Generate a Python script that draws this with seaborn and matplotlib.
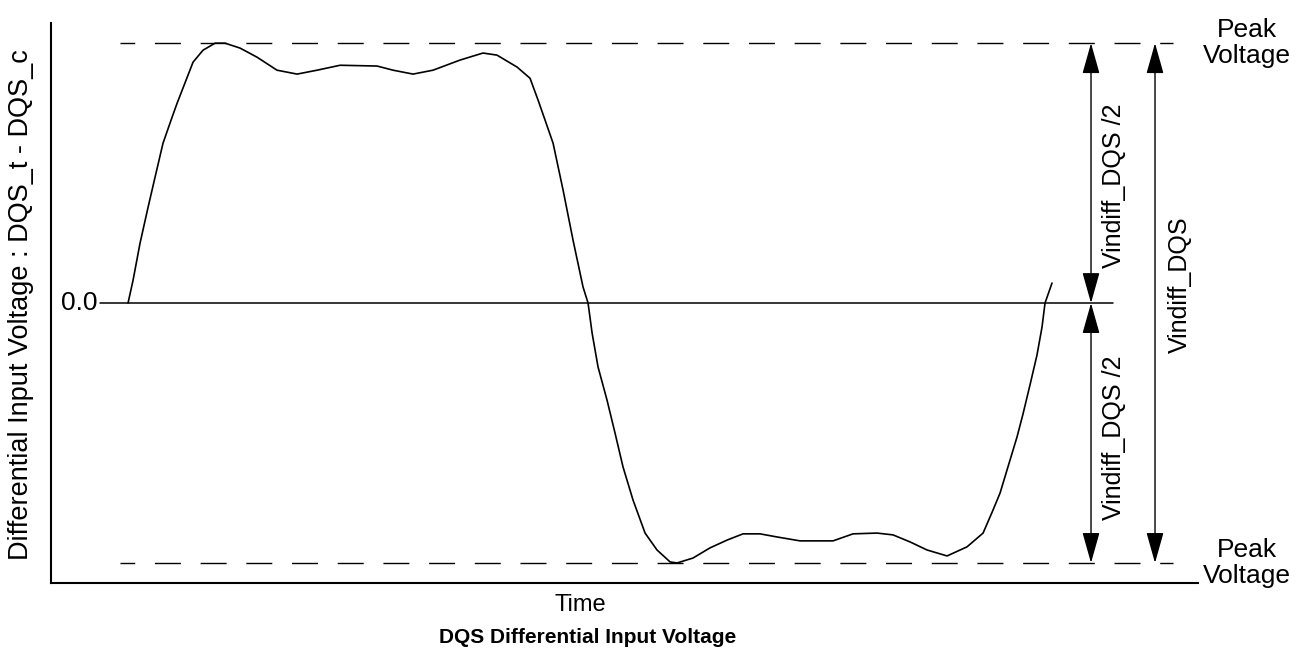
import numpy as np
import pandas as pd
import seaborn as sns
import matplotlib.pyplot as plt

# Waveform (time in arbitrary units 0-100, voltage normalised to the peak)
time_points = [6.71, 7.15, 7.76, 8.46, 9.07, 9.76, 10.55, 10.99, 12.38, 13.25, 14.30, 15.17,
               16.48, 17.96, 19.70, 21.45, 23.19, 25.20, 28.42, 29.82, 31.56, 33.30, 35.66,
               37.66, 38.88, 40.63, 41.76, 42.46, 43.07, 43.77, 44.64, 45.51, 46.38, 46.82,
               47.17, 47.69, 48.47, 49.17, 49.87, 50.74, 51.79, 52.83, 53.97, 54.58, 55.97,
               57.45, 58.94, 60.33, 61.81, 63.30, 65.30, 68.18, 69.92, 72.01, 73.41, 74.89,
               76.37, 78.12, 79.86, 81.26, 82.13, 82.74, 83.61, 84.22, 84.74, 85.35, 85.96,
               86.40, 86.66, 87.27]
voltage_points = [0.0, 0.088, 0.231, 0.369, 0.485, 0.615, 0.715, 0.769, 0.927, 0.973, 1.0, 1.0,
                  0.981, 0.946, 0.896, 0.881, 0.896, 0.915, 0.912, 0.896, 0.881, 0.896, 0.935,
                  0.962, 0.954, 0.908, 0.865, 0.781, 0.704, 0.615, 0.435, 0.242, 0.062, 0.0,
                  -0.115, -0.246, -0.373, -0.5, -0.631, -0.758, -0.885, -0.950, -0.996, -1.0, -0.981,
                  -0.942, -0.912, -0.888, -0.888, -0.900, -0.915, -0.915, -0.888, -0.885, -0.892, -0.919,
                  -0.950, -0.973, -0.938, -0.885, -0.796, -0.731, -0.604, -0.515, -0.427, -0.315, -0.200,
                  -0.092, 0.0, 0.077]

peak_levels = [1.0, -1.0]
half_label = "Vindiff_DQS /2"
full_label = "Vindiff_DQS"
peak_label = "Peak\nVoltage"
zero_label = "0.0"
x_label = "Time"
y_label = "Differential Input Voltage : DQS_t - DQS_c"
title = "DQS Differential Input Voltage"

df = pd.DataFrame({'time': time_points, 'voltage': voltage_points})

sns.set_theme(style="white")
plt.rcParams['font.family'] = ['Liberation Sans', 'DejaVu Sans']
plt.rcParams['text.color'] = 'black'

fig = plt.figure(figsize=(12.96, 6.54), dpi=100)
ax = fig.add_axes([0.0394, 0.1086, 0.885, 0.856])

# Waveform
sns.lineplot(data=df, x='time', y='voltage', ax=ax, color='black', linewidth=1.2, sort=False)

# Zero reference line and dashed peak levels
ax.plot([4.27, 92.6], [0, 0], color='black', linewidth=1.1)
for level in peak_levels:
    ax.plot([6.02, 97.8], [level, level], color='black', linewidth=1.0,
            linestyle=(8.1, (18.7, 14.2)))

# Dimension arrows
arrow_style = dict(arrowstyle='<|-|>,head_length=1.6,head_width=0.45', color='black',
                   lw=1.0, shrinkA=0, shrinkB=0)
ax.annotate('', xy=(90.67, peak_levels[0]), xytext=(90.67, 0), arrowprops=arrow_style)
ax.annotate('', xy=(90.67, peak_levels[1]), xytext=(90.67, 0), arrowprops=arrow_style)
ax.annotate('', xy=(96.25, peak_levels[0]), xytext=(96.25, peak_levels[1]), arrowprops=arrow_style)

# Labels on the plot
ax.text(4.01, 0, zero_label, ha='right', va='center', fontsize=19)
ax.text(92.7, 0.45, half_label, rotation=90, ha='center', va='center', fontsize=18)
ax.text(92.7, -0.52, half_label, rotation=90, ha='center', va='center', fontsize=18)
ax.text(98.4, 0.07, full_label, rotation=90, ha='center', va='center', fontsize=18)
for level in peak_levels:
    ax.text(104.3, level, peak_label, ha='center', va='center', fontsize=19,
            linespacing=1.1, clip_on=False)

ax.set_xlim(0, 100)
ax.set_ylim(-1.077, 1.077)
ax.set_xticks([])
ax.set_yticks([])
ax.set_xlabel('')
ax.set_ylabel('')
sns.despine(ax=ax)
for side in ['left', 'bottom']:
    ax.spines[side].set_color('black')
    ax.spines[side].set_linewidth(1.5)

fig.text(0.4475, 0.075, x_label, ha='center', va='center', fontsize=17)
fig.text(0.4537, 0.0245, title, ha='center', va='center', fontsize=15, fontweight='bold')
fig.text(0.0165, 0.534, y_label, rotation=90, ha='center', va='center', fontsize=19.5)

fig.savefig('out.png', dpi=100)
